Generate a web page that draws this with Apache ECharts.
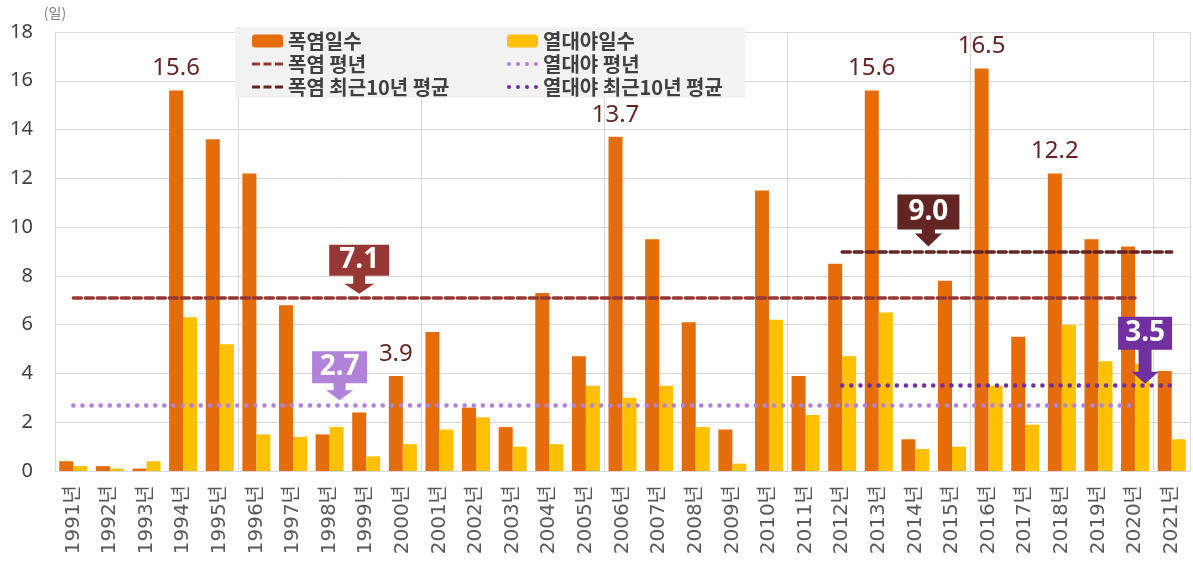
<!DOCTYPE html>
<html>
<head>
<meta charset="utf-8">
<script src="https://cdn.jsdelivr.net/npm/echarts@6/dist/echarts.min.js"></script>
<style>
  html, body { margin: 0; padding: 0; background: #fff; }
  #chart { width: 1193px; height: 569px; }
</style>
</head>
<body>
<div id="chart"></div>
<script>
// 연도별 폭염일수 / 열대야일수
const years = ['1991년', '1992년', '1993년', '1994년', '1995년', '1996년', '1997년', '1998년', '1999년', '2000년',
  '2001년', '2002년', '2003년', '2004년', '2005년', '2006년', '2007년', '2008년', '2009년', '2010년',
  '2011년', '2012년', '2013년', '2014년', '2015년', '2016년', '2017년', '2018년', '2019년', '2020년', '2021년'];
const heatDays = [0.4, 0.2, 0.1, 15.6, 13.6, 12.2, 6.8, 1.5, 2.4, 3.9,
  5.7, 2.6, 1.8, 7.3, 4.7, 13.7, 9.5, 6.1, 1.7, 11.5,
  3.9, 8.5, 15.6, 1.3, 7.8, 16.5, 5.5, 12.2, 9.5, 9.2, 4.1];
const nightDays = [0.2, 0.1, 0.4, 6.3, 5.2, 1.5, 1.4, 1.8, 0.6, 1.1,
  1.7, 2.2, 1.0, 1.1, 3.5, 3.0, 3.5, 1.8, 0.3, 6.2,
  2.3, 4.7, 6.5, 0.9, 1.0, 3.5, 1.9, 6.0, 4.5, 4.4, 1.3];
const labeledYears = ['1994년', '2000년', '2006년', '2013년', '2016년', '2018년'];

// 평년 / 최근10년 평균
const heatNormal = 7.1;
const heatRecent = 9.0;
const nightNormal = 2.7;
const nightRecent = 3.5;
const normalRange = ['1991년', '2020년'];
const recentRange = ['2012년', '2021년'];

const C = {
  heat: '#e46c0a',
  night: '#ffc000',
  heatNormal: '#953735',
  heatRecent: '#632523',
  nightNormal: '#b083d8',
  nightRecent: '#7030a0',
  grid: '#d9d9d9'
};

// legend icons: dashes and dots
const dashIcon = 'path://M0 0H8V3H0Z M11.5 0H19.5V3H11.5Z M23 0H31V3H23Z';
const dot = (x) => 'M' + x + ' 1.8A1.8 1.8 0 1 0 ' + (x + 3.6) + ' 1.8A1.8 1.8 0 1 0 ' + x + ' 1.8Z';
const dotIcon = 'path://' + [0, 8, 16, 24].map(dot).join(' ');

// box + arrow callout shape
function callout(w, boxH, shaftH, triH, shaftW, triW) {
  const c = w / 2, H = boxH + shaftH + triH;
  return {
    path: 'path://M0 0H' + w + 'V' + boxH + 'H' + (c + shaftW / 2) + 'V' + (boxH + shaftH) +
      'H' + (c + triW / 2) + 'L' + c + ' ' + H + 'L' + (c - triW / 2) + ' ' + (boxH + shaftH) +
      'H' + (c - shaftW / 2) + 'V' + boxH + 'H0Z',
    w: w, H: H, boxH: boxH
  };
}

function calloutPoint(cat, value, shape, dx, gap, color) {
  return {
    coord: [cat, value],
    value: value,
    symbol: shape.path,
    symbolSize: [shape.w, shape.H],
    symbolKeepAspect: false,
    symbolOffset: [dx, -shape.H / 2 - gap],
    itemStyle: { color: color },
    label: {
      show: true,
      position: 'inside',
      formatter: (p) => Number(p.value).toFixed(1),
      offset: [0, -(shape.H / 2 - shape.boxH / 2)],
      color: '#fff',
      fontSize: 28,
      fontWeight: 'bold',
      fontFamily: 'Noto Sans, sans-serif'
    }
  };
}

function refLine(name, value, range, color, type, width, point) {
  return {
    name: name,
    type: 'line',
    data: years.map(() => null),
    symbol: 'none',
    showSymbol: false,
    z: 5,
    lineStyle: { color: color, type: type, width: width, cap: 'round' },
    itemStyle: { color: color },
    markLine: {
      silent: true,
      symbol: ['none', 'none'],
      label: { show: false },
      lineStyle: { color: color, type: type, width: width, cap: 'round' },
      data: [[{ coord: [range[0], value] }, { coord: [range[1], value] }]]
    },
    markPoint: { silent: true, z: 10, data: [point] }
  };
}

const chart = echarts.init(document.getElementById('chart'));

const legendText = {
  fontSize: 20,
  fontWeight: 'bold',
  color: '#404040',
  fontFamily: 'Noto Sans CJK KR, sans-serif'
};
const noBorder = { borderWidth: 0 };

const option = {
  animation: false,
  textStyle: { fontFamily: 'Noto Sans CJK KR, sans-serif' },
  graphic: [{
    type: 'rect',
    left: 235, top: 27, z: 3,
    shape: { width: 510, height: 71 },
    style: { fill: '#f2f2f2' }
  }],
  legend: [
    {
      data: [
        '폭염일수',
        { name: '폭염 평년', icon: dashIcon, itemStyle: noBorder },
        { name: '폭염 최근10년 평균', icon: dashIcon, itemStyle: noBorder }
      ],
      orient: 'vertical', left: 247, top: 26,
      itemWidth: 31, itemHeight: 13, itemGap: 3,
      textStyle: legendText
    },
    {
      data: [
        '열대야일수',
        { name: '열대야 평년', icon: dotIcon, itemStyle: noBorder },
        { name: '열대야 최근10년 평균', icon: dotIcon, itemStyle: noBorder }
      ],
      orient: 'vertical', left: 502, top: 26,
      itemWidth: 31, itemHeight: 13, itemGap: 3,
      textStyle: legendText
    }
  ],
  grid: { left: 55, right: 3, top: 32, bottom: 98 },
  xAxis: {
    type: 'category',
    data: years,
    axisTick: { show: false },
    axisLine: { lineStyle: { color: C.grid } },
    axisLabel: {
      interval: 0, rotate: 90, margin: 14,
      fontSize: 20, color: '#595959',
      fontFamily: 'DejaVu Sans, Noto Sans CJK KR, sans-serif'
    },
    splitLine: { show: true, interval: 4, lineStyle: { color: C.grid } }
  },
  yAxis: {
    type: 'value',
    min: 0, max: 18, interval: 2,
    name: '(일)',
    nameGap: 12,
    nameTextStyle: { fontSize: 14, color: '#7f7f7f' },
    axisLine: { show: true, lineStyle: { color: C.grid } },
    axisLabel: { fontSize: 20, color: '#404040', margin: 22, fontFamily: 'Noto Sans, sans-serif' },
    splitLine: { lineStyle: { color: C.grid } }
  },
  series: [
    {
      name: '폭염일수',
      type: 'bar',
      barWidth: 14,
      barGap: '0%',
      itemStyle: { color: C.heat },
      label: {
        position: 'top', distance: 10,
        fontSize: 24, color: C.heatRecent,
        fontFamily: 'Noto Sans, sans-serif',
        formatter: (p) => Number(p.value).toFixed(1)
      },
      data: heatDays.map((v, i) => labeledYears.includes(years[i])
        ? { value: v, label: { show: true } } : v)
    },
    {
      name: '열대야일수',
      type: 'bar',
      barWidth: 14,
      itemStyle: { color: C.night },
      data: nightDays
    },
    refLine('폭염 평년', heatNormal, normalRange, C.heatNormal, [8, 4], 3.5,
      calloutPoint('1999년', heatNormal, callout(60, 31, 8, 10, 12, 30), -7, 4, C.heatNormal)),
    refLine('폭염 최근10년 평균', heatRecent, recentRange, C.heatRecent, [8, 4], 3.5,
      calloutPoint('2014년', heatRecent, callout(62, 35, 4, 13, 13, 27), 13, 5, C.heatRecent)),
    refLine('열대야 평년', nightNormal, normalRange, C.nightNormal, [0.1, 9], 4.5,
      calloutPoint('1998년', nightNormal, callout(55, 32, 7, 10, 12, 27), 10, 5, C.nightNormal)),
    refLine('열대야 최근10년 평균', nightRecent, recentRange, C.nightRecent, [0.1, 9], 4.5,
      calloutPoint('2020년', nightRecent, callout(54, 33, 22, 12, 13, 27), 10, 2, C.nightRecent))
  ]
};

chart.setOption(option);
</script>
</body>
</html>
